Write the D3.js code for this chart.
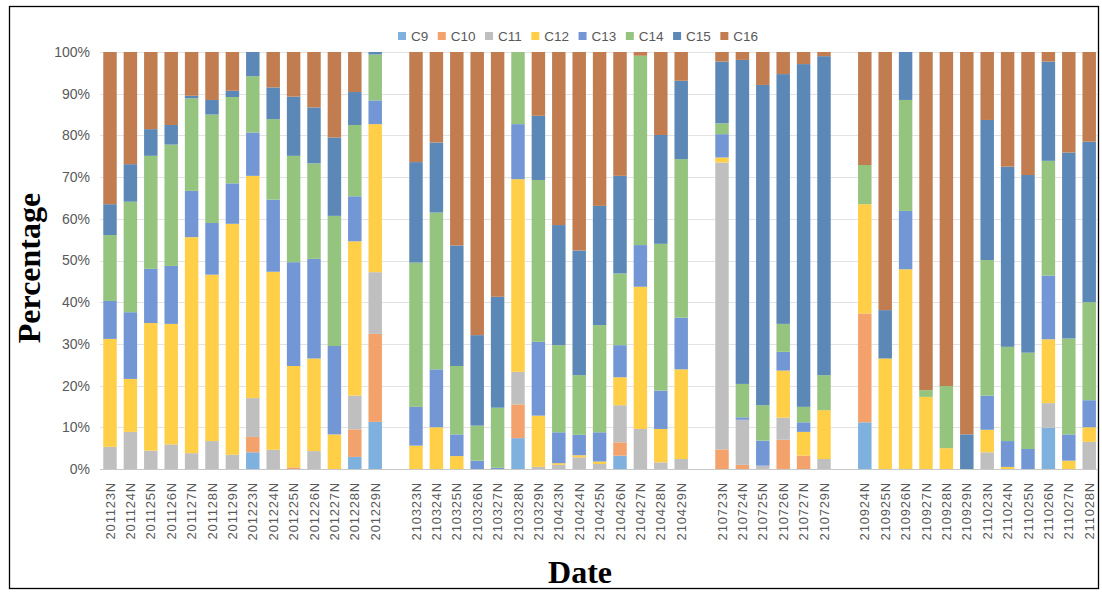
<!DOCTYPE html>
<html>
<head>
<meta charset="utf-8">
<script src="https://cdn.jsdelivr.net/npm/d3@7"></script>
<style>
  html, body { margin: 0; padding: 0; background: #fff; }
  svg { display: block; }
</style>
</head>
<body>
<div id="container"></div>
<script>
// sampling dates, "" = empty slot between campaigns
const categories = [
  "201123N","201124N","201125N","201126N","201127N","201128N","201129N",
  "201223N","201224N","201225N","201226N","201227N","201228N","201229N",
  "",
  "210323N","210324N","210325N","210326N","210327N","210328N","210329N",
  "210423N","210424N","210425N","210426N","210427N","210428N","210429N",
  "",
  "210723N","210724N","210725N","210726N","210727N","210729N",
  "",
  "210924N","210925N","210926N","210927N","210928N","210929N",
  "211023N","211024N","211025N","211026N","211027N","211028N"
]
const seriesNames = ["C9","C10","C11","C12","C13","C14","C15","C16"]
const seriesColors = ["#7fb1df","#f3a26b","#bfbfbf","#ffcf48","#7397d5","#94c47d","#5c88b7","#c17d4f"]

// percent per date, gaps are null
const C9 = [0,0,0,0,0,0,0,4.0,0,0,0,0,2.9,11.3, null,
  0,0,0,0,0,7.4,0,0,0,0,3.2,0,0,0, null,
  0,0,0,0,0,0, null,
  11.2,0,0,0,0,0,0,0,0,9.9,0,0]
const C10 = [0,0,0,0,0,0,0,3.7,0,0.4,0,0,6.6,21.1, null,
  0,0,0,0,0,8.1,0,0,0,0,3.2,0,0,0, null,
  4.7,1.0,0,7.0,3.2,0, null,
  26.1,0,0,0,0,0,0,0,0,0,0,0]
const C11 = [5.3,8.9,4.4,5.9,3.8,6.7,3.4,9.3,4.6,0,4.3,0,8.1,14.8, null,
  0,0,0,0,0,7.8,0.5,1.0,2.8,1.2,8.9,9.6,1.6,2.4, null,
  68.8,10.8,0.8,5.3,0,2.4, null,
  0,0,0,0,0,0,4.0,0,0,5.9,0,6.5]
const C12 = [25.9,12.7,30.6,28.9,51.8,39.9,55.4,53.3,42.7,24.3,22.2,8.3,37.0,35.5, null,
  5.6,10.0,3.1,0,0,46.2,12.3,0.4,0.5,0.6,6.7,34.1,8.0,21.5, null,
  1.2,0,0,11.3,5.7,11.7, null,
  26.2,26.5,47.9,17.3,5.0,0,5.4,0.5,0,15.3,2.0,3.5]
const C13 = [9.1,16.0,13.0,13.9,11.1,12.4,9.7,10.4,17.3,24.9,23.9,21.2,10.8,5.7, null,
  9.3,13.9,5.2,2.0,0.3,13.2,17.7,7.4,4.9,7.0,7.7,10.0,9.2,12.4, null,
  5.6,0.6,6.0,4.5,2.3,0, null,
  0,0,14.0,0,0,0,8.2,6.2,4.8,15.3,6.3,6.5]
const C14 = [15.8,26.5,27.1,29.1,22.2,26.0,20.7,13.5,19.3,25.5,22.9,31.2,17.1,11.0, null,
  34.6,37.6,16.4,8.4,14.4,17.3,38.8,20.9,14.3,25.7,17.2,45.4,35.2,38.0, null,
  2.6,8.0,8.5,6.7,3.7,8.4, null,
  9.4,0,26.6,1.6,14.9,0,32.5,22.6,23.1,27.5,23.0,23.5]
const C15 = [7.4,9.0,6.4,4.7,0.6,3.5,1.5,5.8,7.6,14.2,13.4,18.8,7.9,0.6, null,
  24.1,16.8,28.9,21.7,26.6,0,15.4,28.8,29.9,28.6,23.4,0,26.1,18.8, null,
  14.8,77.7,76.8,59.9,82.2,76.5, null,
  0,11.6,11.5,0,0,8.3,33.6,43.2,42.6,23.8,44.6,38.5]
const C16 = [36.5,26.9,18.5,17.5,10.5,11.5,9.3,0,8.5,10.7,13.3,20.5,9.6,0, null,
  26.4,21.7,46.4,67.9,58.7,0,15.3,41.5,47.6,36.9,29.7,0.9,19.9,6.9, null,
  2.3,1.9,7.9,5.3,2.9,1.0, null,
  27.1,61.9,0,81.1,80.1,91.7,16.3,27.5,29.5,2.3,24.1,21.5]

const yTicks = [0, 0.1, 0.2, 0.3, 0.4, 0.5, 0.6, 0.7, 0.8, 0.9, 1]

var width = 1102, height = 592
var seriesValues = [C9, C10, C11, C12, C13, C14, C15, C16]

// rows for d3.stack
let rows = categories.map(function (c, i) {
  let row = { index: i, label: c }
  seriesNames.forEach(function (s, k) { row[s] = seriesValues[k][i] || 0 })
  return row
})

let stacked = d3.stack()
  .keys(seriesNames)
  .offset(d3.stackOffsetExpand)(rows)

let x = d3.scaleBand()
  .domain(d3.range(categories.length))
  .range([99.8, 1099.4])
  .paddingInner(0.34)
  .paddingOuter(0.17)

let y = d3.scaleLinear().domain([0, 1]).range([469, 52])

let color = d3.scaleOrdinal().domain(seriesNames).range(seriesColors)

let svg = d3.select("#container").append("svg")
  .attr("width", width)
  .attr("height", height)

// frame round the figure
svg.append("rect")
  .attr("x", 9.5).attr("y", 6.5)
  .attr("width", 1089).attr("height", 582)
  .attr("fill", "none").attr("stroke", "#000").attr("stroke-width", 1.3)

// gridlines
svg.append("g").selectAll("line")
  .data(yTicks.filter(d => d > 0))
  .enter().append("line")
  .attr("x1", 100).attr("x2", 1097)
  .attr("y1", d => Math.round(y(d)) + 0.5)
  .attr("y2", d => Math.round(y(d)) + 0.5)
  .attr("stroke", "#e3e3e3")

// y axis labels
let yAxis = svg.append("g")
  .attr("transform", "translate(100,0)")
  .call(d3.axisLeft(y).tickValues(yTicks).tickFormat(d3.format(".0%")).tickSize(0).tickPadding(10))
yAxis.select(".domain").remove()
yAxis.selectAll("text")
  .attr("font-family", "Liberation Sans, Arial, sans-serif")
  .attr("font-size", 14)
  .attr("fill", "#595959")

// bars
svg.append("g").selectAll("g")
  .data(stacked)
  .enter().append("g")
  .attr("fill", d => color(d.key))
  .selectAll("rect")
  .data(d => d)
  .enter().append("rect")
  .attr("x", d => x(d.data.index))
  .attr("width", x.bandwidth())
  .attr("y", d => y(d[1]))
  .attr("height", d => Math.max(0, y(d[0]) - y(d[1])))

// x axis
let xAxis = svg.append("g")
  .attr("transform", "translate(0,469)")
  .call(d3.axisBottom(x).tickFormat(i => categories[i]).tickSize(0))
xAxis.select(".domain")
  .attr("stroke", "#c8c8c8")
  .attr("d", "M100,0.5H1097")
xAxis.selectAll("text")
  .attr("font-family", "Liberation Sans, Arial, sans-serif")
  .attr("font-size", 13)
  .attr("letter-spacing", "0.8px")
  .attr("fill", "#595959")
  .attr("text-anchor", "end")
  .attr("transform", "rotate(-90)")
  .attr("x", -13)
  .attr("y", 0)
  .attr("dy", "0.35em")

// legend
let legend = svg.append("g").attr("transform", "translate(398,36)")
let lx = 0
seriesNames.forEach(function (s) {
  let item = legend.append("g").attr("transform", "translate(" + lx + ",0)")
  item.append("rect")
    .attr("x", 0).attr("y", -4)
    .attr("width", 8).attr("height", 8)
    .attr("fill", color(s))
  let t = item.append("text")
    .attr("x", 13).attr("y", 0).attr("dy", "0.35em")
    .attr("font-family", "Liberation Sans, Arial, sans-serif")
    .attr("font-size", 13.5)
    .attr("fill", "#595959")
    .text(s)
  lx += 13 + t.node().getComputedTextLength() + 9.5
})

// axis titles
svg.append("text")
  .attr("transform", "translate(40,268) rotate(-90)")
  .attr("text-anchor", "middle")
  .attr("font-family", "Liberation Serif, Times New Roman, serif")
  .attr("font-weight", "bold")
  .attr("font-size", 32)
  .text("Percentage")

svg.append("text")
  .attr("x", 580).attr("y", 583)
  .attr("text-anchor", "middle")
  .attr("font-family", "Liberation Serif, Times New Roman, serif")
  .attr("font-weight", "bold")
  .attr("font-size", 32)
  .text("Date")
</script>
</body>
</html>
